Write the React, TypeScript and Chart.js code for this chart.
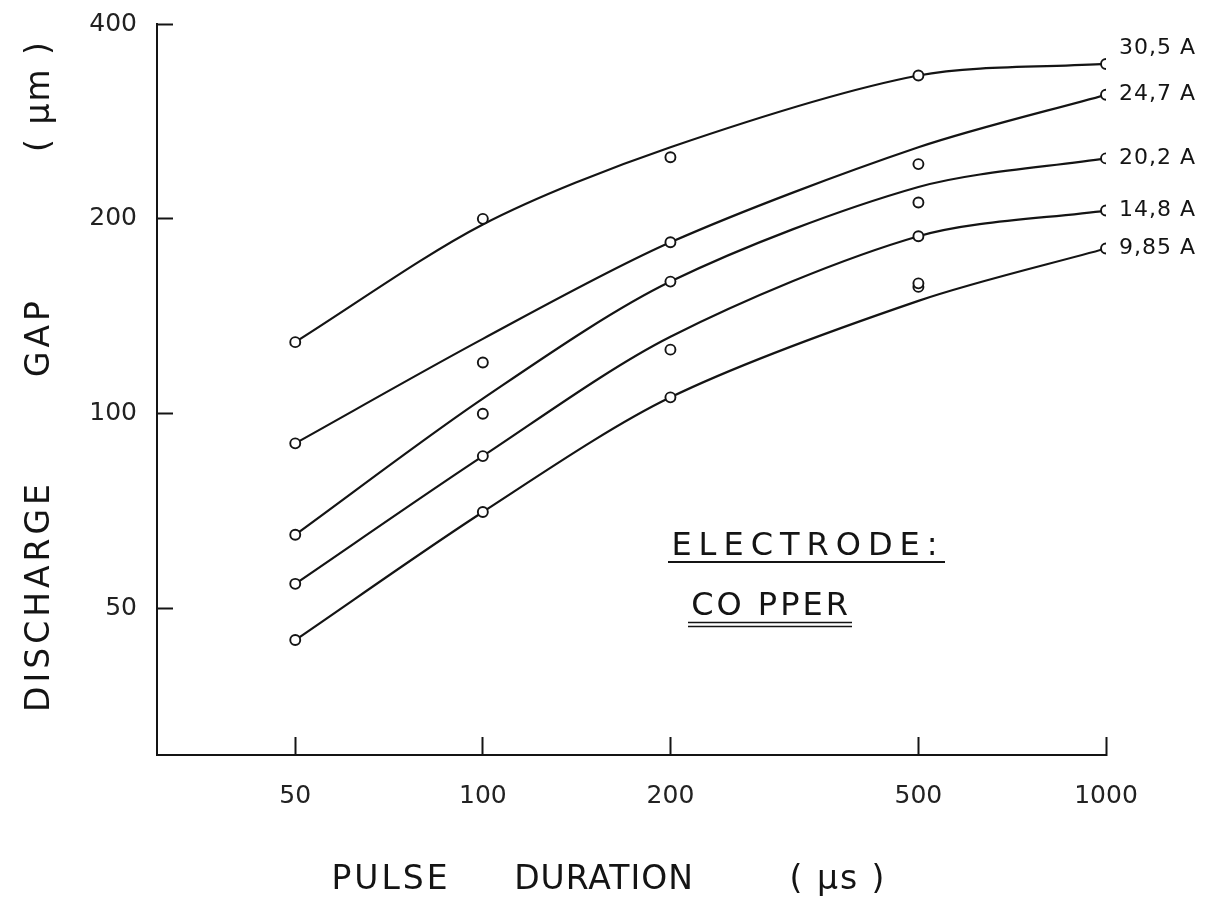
import React, { useEffect, useRef } from "react";
import { Chart, registerables } from "chart.js";

Chart.register(...registerables);

// ---- data ----
const PULSE_US = [50, 100, 200, 500, 1000];
const X_TICKS = [50, 100, 200, 500, 1000];
const Y_TICKS = [50, 100, 200, 400];
const CURRENT_LABELS = ["30,5 A", "24,7 A", "20,2 A", "14,8 A", "9,85 A"];

// measured points (discharge gap, µm)
const GAP_30_5 = [129, 200, 249, 333, 347];
const GAP_24_7 = [90, 120, 184, 243, 311];
const GAP_20_2 = [65, 100, 160, 212, 248];
const GAP_14_8 = [54.6, 86, 125.6, 188, 206];
const GAP_9_85 = [44.7, 70.5, 106, 157, 180];
const GAP_9_85_REPEAT_X = 500;
const GAP_9_85_REPEAT_Y = 159;

// fitted curves, read at the same pulse durations
const FIT_30_5 = [129, 196, 258, 333, 347];
const FIT_24_7 = [90, 130.5, 184, 258, 311];
const FIT_20_2 = [65, 105.5, 160, 224, 248];
const FIT_14_8 = [54.6, 86, 131.5, 188, 206];
const FIT_9_85 = [44.7, 70.5, 106, 149.4, 180];

const INK = "#141414";
const FONT = '"DejaVu Sans", sans-serif';

const pts = (xs: number[], ys: number[]) => xs.map((x, i) => ({ x, y: ys[i] }));

const POINT_SETS = [
  pts(PULSE_US, GAP_30_5),
  pts(PULSE_US, GAP_24_7),
  pts(PULSE_US, GAP_20_2),
  pts(PULSE_US, GAP_14_8),
  [...pts(PULSE_US, GAP_9_85), { x: GAP_9_85_REPEAT_X, y: GAP_9_85_REPEAT_Y }],
];
const FIT_SETS = [FIT_30_5, FIT_24_7, FIT_20_2, FIT_14_8, FIT_9_85].map((f) => pts(PULSE_US, f));
const LABEL_DY = [-16, 0, 0, 0, 0];

const annotate = {
  id: "annotate",
  afterDraw(chart: any) {
    const { ctx, scales } = chart;
    const xs = scales.x;
    const ys = scales.y;
    ctx.save();
    ctx.fillStyle = INK;
    ctx.strokeStyle = INK;
    ctx.textBaseline = "middle";

    // series labels at the end of each curve
    ctx.font = `22px ${FONT}`;
    ctx.textAlign = "left";
    ctx.letterSpacing = "1px";
    CURRENT_LABELS.forEach((label, i) => {
      const fit = FIT_SETS[i];
      const last = fit[fit.length - 1];
      ctx.fillText(label, xs.getPixelForValue(last.x) + 13, ys.getPixelForValue(last.y) + LABEL_DY[i]);
    });

    // x axis title
    ctx.textAlign = "center";
    ctx.font = `33px ${FONT}`;
    ctx.letterSpacing = "3px";
    ctx.fillText("PULSE", 391, 880);
    ctx.letterSpacing = "1px";
    ctx.fillText("DURATION", 604, 880);
    ctx.letterSpacing = "2px";
    ctx.fillText("( μs )", 838, 880);

    // y axis title (rotated)
    ctx.save();
    ctx.translate(40, 0);
    ctx.rotate(-Math.PI / 2);
    ctx.font = `33px ${FONT}`;
    ctx.letterSpacing = "4px";
    ctx.fillText("DISCHARGE", -596, 0);
    ctx.fillText("GAP", -337, 0);
    ctx.letterSpacing = "2px";
    ctx.fillText("( μm )", -96, 0);
    ctx.restore();

    // electrode annotation
    ctx.font = `32px ${FONT}`;
    ctx.letterSpacing = "7px";
    ctx.fillText("ELECTRODE:", 808, 547);
    ctx.letterSpacing = "3px";
    ctx.fillText("CO PPER", 771, 607);
    ctx.lineWidth = 2;
    ctx.beginPath();
    ctx.moveTo(668, 562);
    ctx.lineTo(945, 562);
    ctx.stroke();
    ctx.lineWidth = 1.6;
    ctx.beginPath();
    ctx.moveTo(688, 622.5);
    ctx.lineTo(852, 622.5);
    ctx.moveTo(688, 626.5);
    ctx.lineTo(852, 626.5);
    ctx.stroke();

    ctx.restore();
  },
};

export default function App() {
  const ref = useRef<HTMLCanvasElement | null>(null);

  useEffect(() => {
    if (!ref.current) return;
    const pointDatasets = POINT_SETS.map((data, i) => ({
      label: CURRENT_LABELS[i] + " measured",
      data,
      showLine: false,
      pointRadius: 5,
      pointBorderWidth: 1.9,
      pointBackgroundColor: "#ffffff",
      pointBorderColor: INK,
      borderColor: INK,
    }));
    const fitDatasets = FIT_SETS.map((data, i) => ({
      label: CURRENT_LABELS[i],
      data,
      showLine: true,
      pointRadius: 0,
      borderWidth: 2.2,
      borderColor: INK,
      fill: false,
      tension: 0.3,
    }));

    const chart = new Chart(ref.current, {
      type: "line",
      data: { datasets: [...pointDatasets, ...fitDatasets] as any },
      options: {
        responsive: false,
        animation: false,
        layout: { padding: { top: 24, right: 99, left: 0, bottom: 0 } },
        plugins: { legend: { display: false }, tooltip: { enabled: false } },
        scales: {
          x: {
            type: "logarithmic",
            min: 30,
            max: 1000,
            afterBuildTicks: (s: any) => {
              s.ticks = X_TICKS.map((v) => ({ value: v }));
            },
            afterFit: (s: any) => {
              s.height = 163;
              s.paddingLeft = 0;
              s.paddingRight = 0;
            },
            ticks: {
              callback: (v: any) => String(v),
              font: { family: "DejaVu Sans", size: 25 },
              color: "#222",
              padding: 44,
              autoSkip: false,
              maxRotation: 0,
            },
            grid: {
              display: true,
              drawOnChartArea: false,
              drawTicks: true,
              tickLength: -18,
              tickWidth: 2,
              tickColor: INK,
            },
            border: { display: true, color: INK, width: 2 },
          },
          y: {
            type: "logarithmic",
            min: 29.7,
            max: 400,
            afterBuildTicks: (s: any) => {
              s.ticks = Y_TICKS.map((v) => ({ value: v }));
            },
            afterFit: (s: any) => {
              s.width = 157;
              s.paddingTop = 0;
              s.paddingBottom = 0;
            },
            ticks: {
              callback: (v: any) => String(v),
              font: { family: "DejaVu Sans", size: 25 },
              color: "#222",
              padding: 36,
              autoSkip: false,
            },
            grid: {
              display: true,
              drawOnChartArea: false,
              drawTicks: true,
              tickLength: -16,
              tickWidth: 2,
              tickColor: INK,
            },
            border: { display: true, color: INK, width: 2 },
          },
        },
      },
      plugins: [annotate],
    });
    return () => chart.destroy();
  }, []);

  return (
    <div style={{ position: "absolute", left: 0, top: 0, width: 1205, height: 918, background: "#fff" }}>
      <canvas ref={ref} width={1205} height={918} style={{ display: "block" }} />
    </div>
  );
}
